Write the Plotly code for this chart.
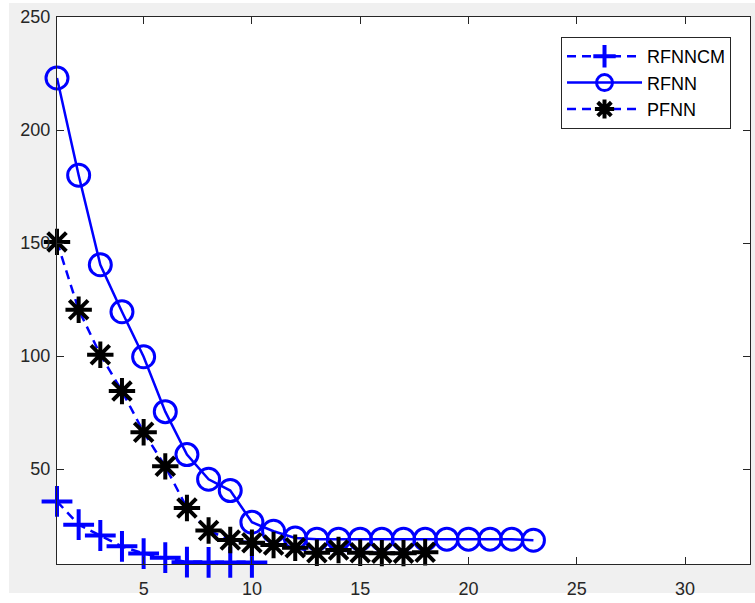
import plotly.graph_objects as go

# ---- data ----
x_rfnncm = [1, 2, 3, 4, 5, 6, 7, 8, 9, 10]
y_rfnncm = [35.7, 25.4, 20.6, 15.8, 12.6, 10.8, 8.8, 8.7, 8.7, 8.7]

x_rfnn = list(range(1, 24))
y_rfnn = [223, 180, 140.4, 119.6, 99.7, 75.4, 56.4, 45.5, 40.5, 26.5, 22.5,
          19.5, 19, 19, 19, 19, 19, 19, 19, 19, 19, 19, 18.5]

x_pfnn = list(range(1, 19))
y_pfnn = [150.5, 120.5, 100.6, 84.5, 66.3, 51.2, 32.8, 22.8, 18.6, 17.4, 16.4,
          15.2, 13.0, 14.2, 13.0, 12.8, 12.8, 13.2]

x_ticks = [5, 10, 15, 20, 25, 30]
y_ticks = [50, 100, 150, 200, 250]
x_range = [1, 33]
y_range = [8, 250]

BLUE = "#0000FF"
AX = "#262626"
FONT = "Liberation Sans, Arial, Helvetica, sans-serif"

fig = go.Figure()
fig.add_trace(go.Scatter(
    x=x_rfnncm, y=y_rfnncm, name="RFNNCM", mode="lines+markers", cliponaxis=False,
    line=dict(color=BLUE, width=2.5, dash="9px,6px"),
    marker=dict(symbol="cross-thin-open", size=22, color=BLUE,
                line=dict(color=BLUE, width=4)),
))
fig.add_trace(go.Scatter(
    x=x_rfnn, y=y_rfnn, name="RFNN", mode="lines+markers", cliponaxis=False,
    line=dict(color=BLUE, width=2.5),
    marker=dict(symbol="circle-open", size=22, color=BLUE,
                line=dict(color=BLUE, width=3)),
))
fig.add_trace(go.Scatter(
    x=x_pfnn, y=y_pfnn, name="PFNN", mode="lines+markers", cliponaxis=False,
    line=dict(color=BLUE, width=2.5, dash="9px,6px"),
    marker=dict(symbol="asterisk-open", size=22, color="black",
                line=dict(color="black", width=4)),
))

axis_common = dict(
    showline=True, linecolor=AX, linewidth=1, mirror="ticks",
    ticks="inside", ticklen=7, tickcolor=AX, tickwidth=1,
    showgrid=False, zeroline=False, automargin=False,
    tickfont=dict(family=FONT, size=18, color=AX),
)
fig.update_xaxes(range=x_range, tickvals=x_ticks, ticklabelstandoff=8, **axis_common)
fig.update_yaxes(range=y_range, tickvals=y_ticks, ticklabelstandoff=2, **axis_common)

fig.update_layout(
    width=755, height=603,
    margin=dict(l=57, r=5, t=17, b=39),
    paper_bgcolor="#f0f0f0", plot_bgcolor="white",
    showlegend=True,
    legend=dict(
        x=0.9726, y=0.9634, xanchor="right", yanchor="top",
        bgcolor="white", bordercolor=AX, borderwidth=1,
        font=dict(family=FONT, size=18, color="black"),
        itemwidth=75, tracegroupgap=0,
    ),
    shapes=[
        dict(type="rect", xref="paper", yref="paper",
             x0=-0.1, x1=-0.0693, y0=-0.1, y1=1.1,
             fillcolor="white", line=dict(width=0), layer="below"),
        dict(type="rect", xref="paper", yref="paper",
             x0=-0.1, x1=1.1, y0=-0.1, y1=-0.053,
             fillcolor="white", line=dict(width=0), layer="below"),
        dict(type="rect", xref="paper", yref="paper",
             x0=-0.1, x1=1.1, y0=1.0256, y1=1.1,
             fillcolor="white", line=dict(width=0), layer="below"),
    ],
)

fig.write_html(
    "out.html",
    config={"displayModeBar": False},
    post_script="document.body.style.margin='0';document.body.style.padding='0';"
                "document.body.style.overflow='hidden';",
)
